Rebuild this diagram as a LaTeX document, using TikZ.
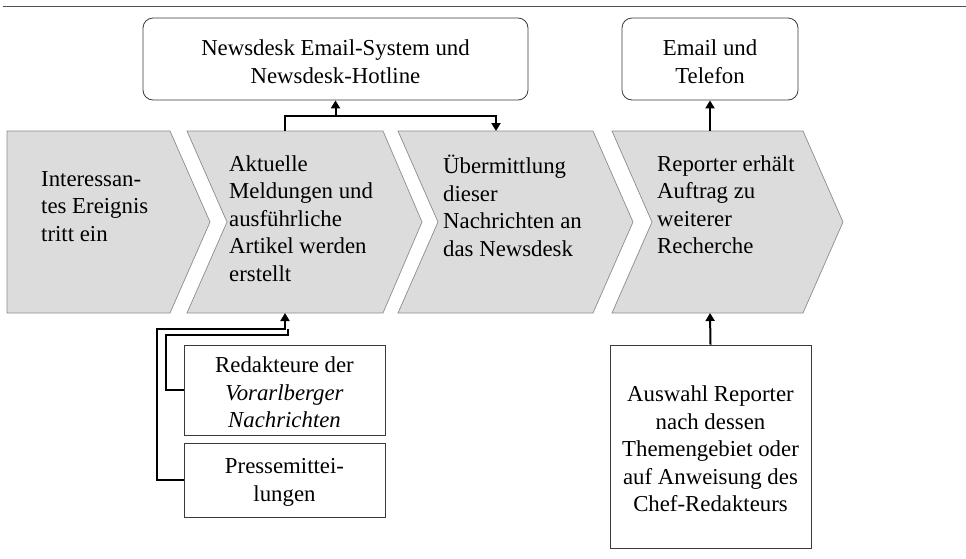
\documentclass[tikz,border=0pt]{standalone}
\usepackage{fontspec}
\setmainfont{Liberation Serif}
\usetikzlibrary{arrows.meta}
\definecolor{chevfill}{HTML}{DCDCDC}
\definecolor{chevline}{HTML}{8C8C8C}
\definecolor{rulegray}{HTML}{505050}
\definecolor{boxline}{HTML}{3A3A3A}
\begin{document}
\begin{tikzpicture}[x=1pt,y=-1pt,
  chev/.style={fill=chevfill,draw=chevline,line width=0.7pt},
  chevtext/.style={anchor=north west,align=left,inner sep=0pt,
    font=\fontsize{22.8}{27.5}\selectfont},
  roundbox/.style={draw=boxline,line width=0.8pt,rounded corners=10pt,inner sep=0pt},
  plainbox/.style={draw=boxline,line width=0.8pt,inner sep=0pt},
  boxtext/.style={align=center,inner sep=0pt,yshift=-2.5pt,
    font=\fontsize{22.8}{27.5}\selectfont},
  flow/.style={line width=2pt,-{Triangle[width=9pt,length=8pt]}},
  flowline/.style={line width=2pt}
]
\useasboundingbox (0,0) rectangle (966,558);

% rule across the top
\draw[rulegray,line width=1pt] (3,6) -- (966,6);

% process chain
\draw[chev] (7,131) -- (170,131) -- (210,222) -- (170,313) -- (7,313) -- cycle;
\draw[chev] (187,131) -- (383,131) -- (422,222) -- (383,313) -- (187,313) -- (227,222) -- cycle;
\draw[chev] (398,131) -- (593,131) -- (633,222) -- (593,313) -- (398,313) -- (438,222) -- cycle;
\draw[chev] (612,131) -- (803,131) -- (843,222) -- (803,313) -- (612,313) -- (652,222) -- cycle;

\node[chevtext] (t1) at (41,171) {Interessan-\\tes Ereignis\\tritt ein};
\node[chevtext] (t2) at (229,155) {Aktuelle\\Meldungen und\\ausführliche\\Artikel werden\\erstellt};
\node[chevtext] (t3) at (443,155) {Übermittlung\\dieser\\Nachrichten an\\das Newsdesk};
\node[chevtext] (t4) at (657,155) {Reporter erhält\\Auftrag zu\\weiterer\\Recherche};

% attachment points on the chevrons
\coordinate (c2top) at (285,131);
\coordinate (c2bot) at (285,313);
\coordinate (c3top) at (496,131);
\coordinate (c4top) at (710,131);
\coordinate (c4bot) at (710,313);

% systems above
\node[roundbox,minimum width=385pt,minimum height=82pt] (sys) at (335.5,59) {};
\node[boxtext] (sys-txt) at (sys.center) {Newsdesk Email-System und\\Newsdesk-Hotline};
\node[roundbox,minimum width=176pt,minimum height=82pt] (tel) at (710,59) {};
\node[boxtext] (tel-txt) at (tel.center) {Email und\\Telefon};

% sources below
\node[plainbox,minimum width=201pt,minimum height=90pt] (red) at (284.5,390) {};
\node[boxtext] (red-txt) at (red.center)
  {Redakteure der\\\textit{Vorarlberger}\\\textit{Nachrichten}};
\node[plainbox,minimum width=201pt,minimum height=74pt] (pm) at (284.5,480) {};
\node[boxtext] (pm-txt) at (pm.center) {Pressemittei-\\lungen};
\node[plainbox,minimum width=201pt,minimum height=203pt] (rep) at (710.5,446.5) {};
\node[boxtext] (rep-txt) at (rep.center)
  {Auswahl Reporter\\nach dessen\\Themengebiet oder\\auf Anweisung des\\Chef-Redakteurs};

% connectors
\coordinate (split) at (285,116);
\coordinate (hub) at (335.5,116);
\draw[flowline] (c2top) -- (split) -- (hub);
\draw[flow] (hub) -- (sys.south);
\draw[flow] (hub) -| (c3top);
\draw[flow] (c4top) -- (tel.south);
\draw[flow] (rep.north) -- (c4bot);

\coordinate (outer) at (157,329);
\coordinate (inner) at (166,335);
\coordinate (innerend) at (287.5,329);
\draw[flow] (pm.west) -| (outer) -| (c2bot);
\draw[flowline] (red.west) -| (inner) -| (innerend);
\end{tikzpicture}
\end{document}
